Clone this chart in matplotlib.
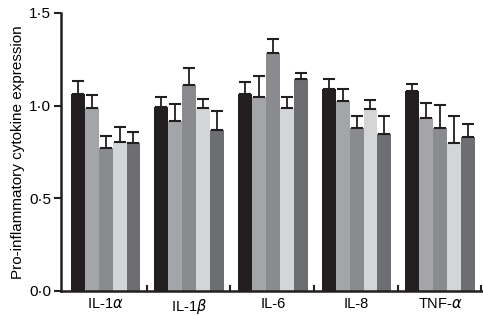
import matplotlib
matplotlib.use("Agg")
import matplotlib.pyplot as plt
import numpy as np

plt.rcParams['font.family'] = ['Liberation Sans', 'DejaVu Sans']
plt.rcParams['mathtext.fontset'] = 'dejavusans'

categories = ['IL-1$\\alpha$', 'IL-1$\\beta$', 'IL-6', 'IL-8', 'TNF-$\\alpha$']
series_means = [
    [1.063, 0.995, 1.063, 1.089, 1.081],
    [0.986, 0.916, 1.045, 1.027, 0.934],
    [0.770, 1.110, 1.286, 0.878, 0.881],
    [0.805, 0.986, 0.988, 0.980, 0.797],
    [0.800, 0.867, 1.146, 0.847, 0.831],
]
series_errors = [
    [0.070, 0.054, 0.065, 0.057, 0.038],
    [0.070, 0.092, 0.115, 0.062, 0.081],
    [0.067, 0.094, 0.076, 0.068, 0.123],
    [0.078, 0.050, 0.059, 0.049, 0.146],
    [0.056, 0.103, 0.029, 0.099, 0.070],
]
series_colors = ['#231f20', '#a3a5a8', '#8a8b8e', '#d4d5d7', '#6d6e71']
yticks = [0.0, 0.5, 1.0, 1.5]
ytick_labels = ['0·0', '0·5', '1·0', '1·5']

fig = plt.figure(figsize=(4.83, 3.16), dpi=100)
ax = fig.add_axes([61/483, 1 - 291/316, (482-61)/483, (291-13)/316])

n_series = len(series_means)
group_step = n_series + 1
for j in range(n_series):
    xs = np.arange(len(categories)) * group_step + j + 0.5
    ax.bar(xs, series_means[j], width=1.0, color=series_colors[j], zorder=2)
    ax.errorbar(xs, series_means[j], yerr=[np.zeros(len(categories)), series_errors[j]],
                fmt='none', ecolor='#231f20', elinewidth=1.3, capsize=4.5, capthick=1.5, zorder=3)

ax.set_xlim(-0.7, 29.5)
ax.set_ylim(0, 1.5)
centers = np.arange(len(categories)) * group_step + n_series / 2
ax.set_xticks(centers)
ax.set_xticklabels(categories, fontsize=10.5)
ax.set_xticks(np.arange(len(categories)) * group_step + n_series + 0.45, minor=True)
ax.tick_params(axis='x', which='major', length=0, pad=4)
ax.tick_params(axis='x', which='minor', direction='in', length=4, width=1.5, color='#231f20')
ax.set_yticks(yticks)
ax.set_yticklabels(ytick_labels, fontsize=11)
ax.tick_params(axis='y', direction='out', length=5, width=1.5, color='#231f20', pad=2)
ax.set_ylabel('Pro-inflammatory cytokine expression', fontsize=11, labelpad=3)

for s in ['top', 'right']:
    ax.spines[s].set_visible(False)
for s in ['left', 'bottom']:
    ax.spines[s].set_linewidth(1.8)
    ax.spines[s].set_color('#231f20')

fig.savefig('out.png', dpi=100)
